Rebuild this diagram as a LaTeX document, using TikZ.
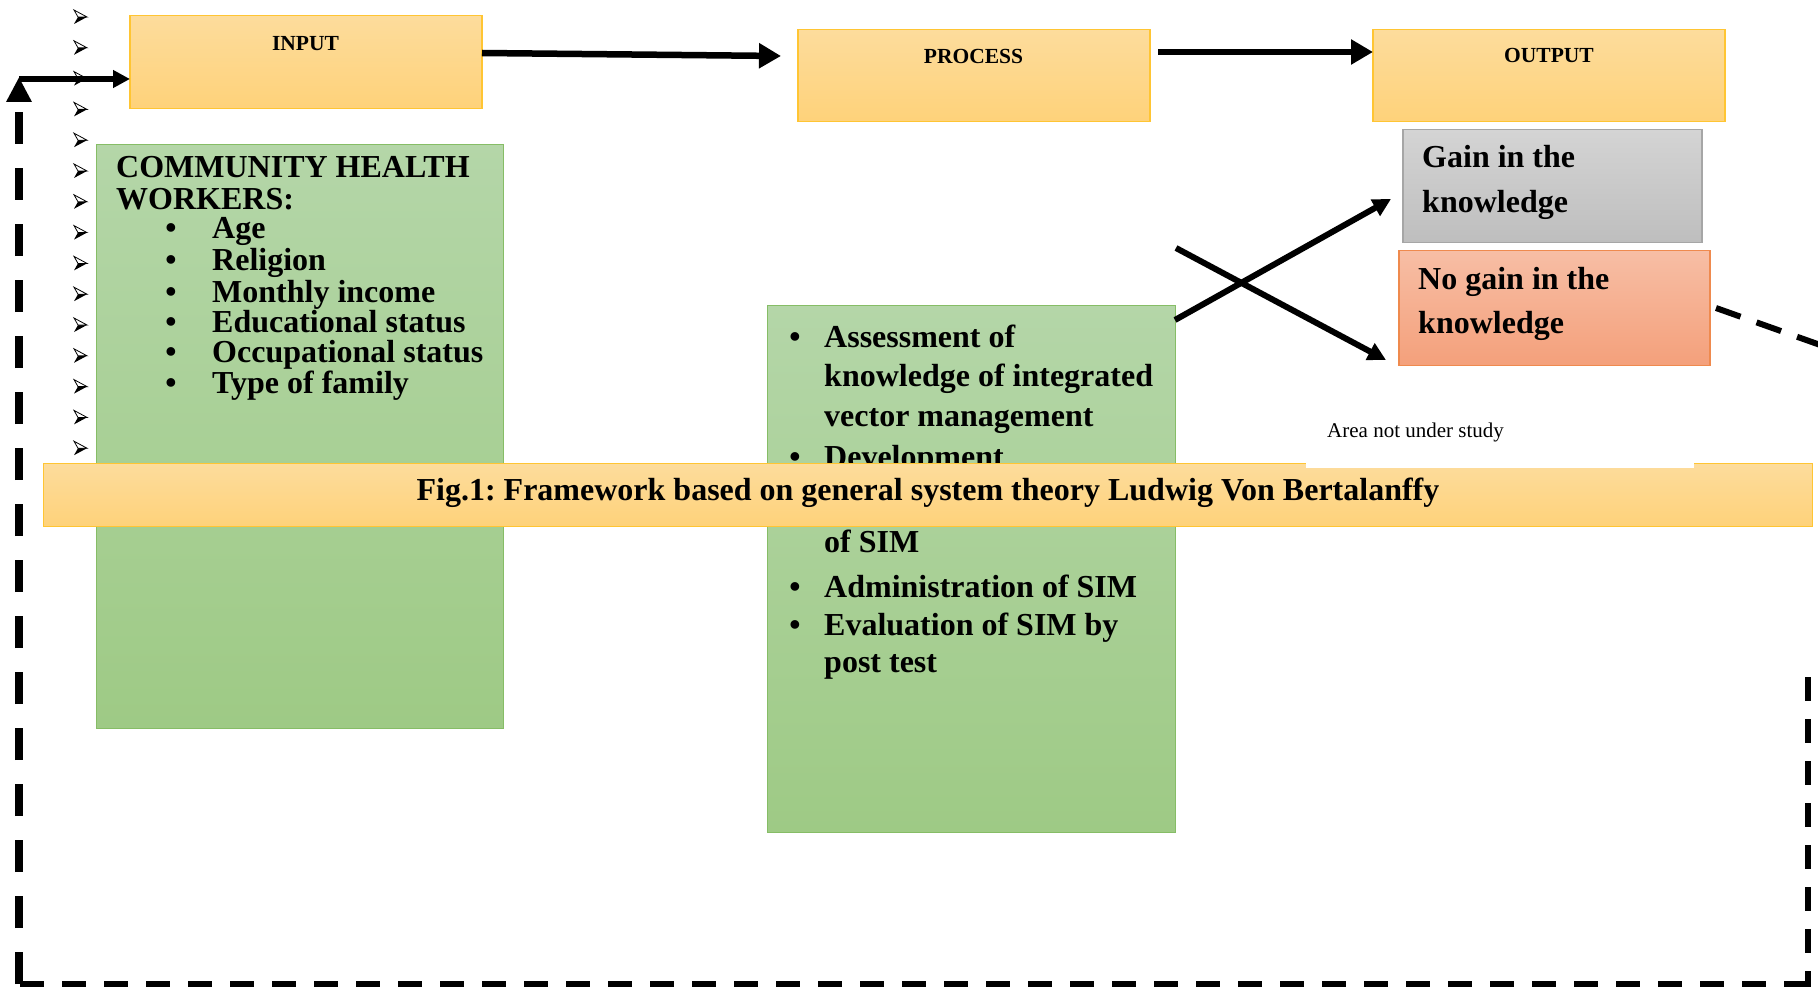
\documentclass[tikz,border=0pt]{standalone}
\usepackage{fontspec}
\setmainfont{Liberation Serif}
\usetikzlibrary{arrows.meta}
\frenchspacing
\definecolor{ytop}{HTML}{FDDC9C}
\definecolor{ybot}{HTML}{FED27A}
\definecolor{yline}{HTML}{FFC533}
\definecolor{gtop}{HTML}{B4D6A8}
\definecolor{gbot}{HTML}{9ECA85}
\definecolor{gline}{HTML}{86BD66}
\definecolor{stop}{HTML}{D4D4D4}
\definecolor{sbot}{HTML}{BEBEBE}
\definecolor{sline}{HTML}{A6A6A6}
\definecolor{otop}{HTML}{F7BEA5}
\definecolor{obot}{HTML}{F4A07B}
\definecolor{oline}{HTML}{EF8A4E}
\tikzset{
  box/.style={draw, anchor=north west, inner sep=0pt, outer sep=0pt, line width=1.6pt},
  ybox/.style={box, draw=yline, top color=ytop, bottom color=ybot},
  gbox/.style={box, draw=gline, top color=gtop, bottom color=gbot, line width=1.3pt},
  sbox/.style={box, draw=sline, top color=stop, bottom color=sbot, line width=1.3pt},
  obox/.style={box, draw=oline, top color=otop, bottom color=obot},
  big/.style={font=\fontsize{32}{38}\selectfont\bfseries, anchor=base west, inner sep=0pt},
  bul/.style={font=\fontsize{32}{38}\selectfont\bfseries, anchor=base, inner sep=0pt},
  ttl/.style={font=\fontsize{21.5}{25}\selectfont\bfseries, anchor=base, inner sep=0pt},
  bigarrow/.style={line width=6.5pt, -{Triangle[length=22pt,width=24pt]}},
  crossarrow/.style={line width=6pt, -{Triangle[length=18pt,width=18pt]}},
  loopdashA/.style={line width=8pt, dash pattern=on 32pt off 24pt},
  loopdashB/.style={line width=5.5pt, dash pattern=on 24pt off 18pt},
  loopdashC/.style={line width=6pt, dash pattern=on 26pt off 17pt},
}
\begin{document}
\begin{tikzpicture}[x=1pt,y=1pt]
\useasboundingbox (0,0) rectangle (1818,-987);
\clip (0,0) rectangle (1818,-987);

% small arrowhead markers
\foreach \k in {0,...,14} {
  \pgfmathsetmacro\yy{-17-30.8*\k}
  \fill (87,\yy) -- (78,\yy) -- (74,\yy-7) -- cycle;
  \filldraw[fill=white, line width=0.8pt] (87,\yy) -- (74,\yy+7) -- (78,\yy) -- cycle;
}

% header boxes
\node[ybox, minimum width=352pt, minimum height=93pt] (input) at (130,-15.5) {};
\node[ybox, minimum width=352pt, minimum height=92pt] (process) at (798,-29.5) {};
\node[ybox, minimum width=352pt, minimum height=92pt] (output) at (1373,-29.5) {};
\node[ttl] (inputlbl) at (305.5,-51) {INPUT};
\node[ttl] (processlbl) at (973.5,-64) {PROCESS};
\node[ttl] (outputlbl) at (1549,-63) {OUTPUT};

% green boxes
\node[gbox, minimum width=407pt, minimum height=584pt] (chw) at (96.5,-144.5) {};
\node[gbox, minimum width=408pt, minimum height=527pt] (proc) at (767.5,-305.5) {};

% output boxes
\node[sbox, minimum width=299pt, minimum height=113pt] (gain) at (1403,-129.5) {};
\node[obox, minimum width=311pt, minimum height=115pt] (nogain) at (1399,-250.5) {};

% CHW text
\node[big] (c1) at (116,-178) {COMMUNITY HEALTH};
\node[big] (c2) at (116,-210) {WORKERS:};
\foreach \t/\y [count=\i] in {Age/239, Religion/270, Monthly income/302, Educational status/332, Occupational status/362, Type of family/393} {
  \node[bul] (cb\i) at (171,-\y) {\textbullet};
  \node[big] (ci\i) at (212,-\y) {\t};
}

% process text
\node[bul] (pb1) at (795,-347) {\textbullet};
\node[big] (p1) at (824,-347) {Assessment of};
\node[big] (p2) at (824,-386) {knowledge of integrated};
\node[big] (p3) at (824,-426) {vector management};
\node[bul] (pb2) at (795,-467) {\textbullet};
\node[big] (p4) at (824,-467) {Development};
\node[big] (p5) at (824,-552) {of SIM};
\node[bul] (pb3) at (795,-597) {\textbullet};
\node[big] (p6) at (824,-597) {Administration of SIM};
\node[bul] (pb4) at (795,-635) {\textbullet};
\node[big] (p7) at (824,-635) {Evaluation of SIM by};
\node[big] (p8) at (824,-672) {post test};

% output text
\node[big] (g1) at (1422,-168) {Gain in the};
\node[big] (g2) at (1422,-213) {knowledge};
\node[big] (n1) at (1418,-289) {No gain in the};
\node[big] (n2) at (1418,-333) {knowledge};

% main arrows
\coordinate (a1s) at ([yshift=9pt]input.east);
\coordinate (a1e) at (781,-56);
\draw[bigarrow] (a1s) -- (a1e);
\coordinate (a2s) at (1158,-52);
\draw[bigarrow] (a2s) -- (a2s -| output.west);

% cross arrows
\coordinate (x1s) at (1176,-248);
\coordinate (x1e) at (1386,-360);
\coordinate (x2s) at (1175,-320);
\coordinate (x2e) at (1391,-199);
\draw[crossarrow] (x1s) -- (x1e);
\draw[crossarrow] (x2s) -- (x2e);

% feedback loop
\coordinate (d1s) at ([xshift=6pt]nogain.east);
\coordinate (d1e) at (1840,-352);
\draw[loopdashC] (d1s) -- (d1e);
\coordinate (r1) at (1808,-677);
\coordinate (r2) at (1808,-990);
\draw[loopdashB] (r1) -- (r2);
\coordinate (b1) at (20,-984);
\coordinate (b2) at (1811,-984);
\draw[loopdashB] (b1) -- (b2);
\coordinate (l1) at (19,-984);
\coordinate (fb) at (19,-77);
\draw[loopdashA, -{Triangle[length=25pt,width=24pt]}] (l1) -- (fb);
\coordinate (fbh) at (19,-79);
\draw[line width=6pt, -{Triangle[length=17pt,width=17pt]}] (fbh) -- (fbh -| input.west);

% caption bar
\node[ybox, minimum width=1769pt, minimum height=63pt] (caption) at (43.5,-463.5) {};
\node[bul] (captxt) at (928,-500) {Fig.1: Framework based on general system theory Ludwig Von Bertalanffy};

% area not under study
\node[fill=white, anchor=north west, inner sep=0pt, minimum width=388pt, minimum height=68pt] (areabox) at (1306,-400) {};
\node[font=\fontsize{21}{25}\selectfont, anchor=base west, inner sep=0pt] (area) at (1327,-437) {Area not under study};
\end{tikzpicture}
\end{document}
